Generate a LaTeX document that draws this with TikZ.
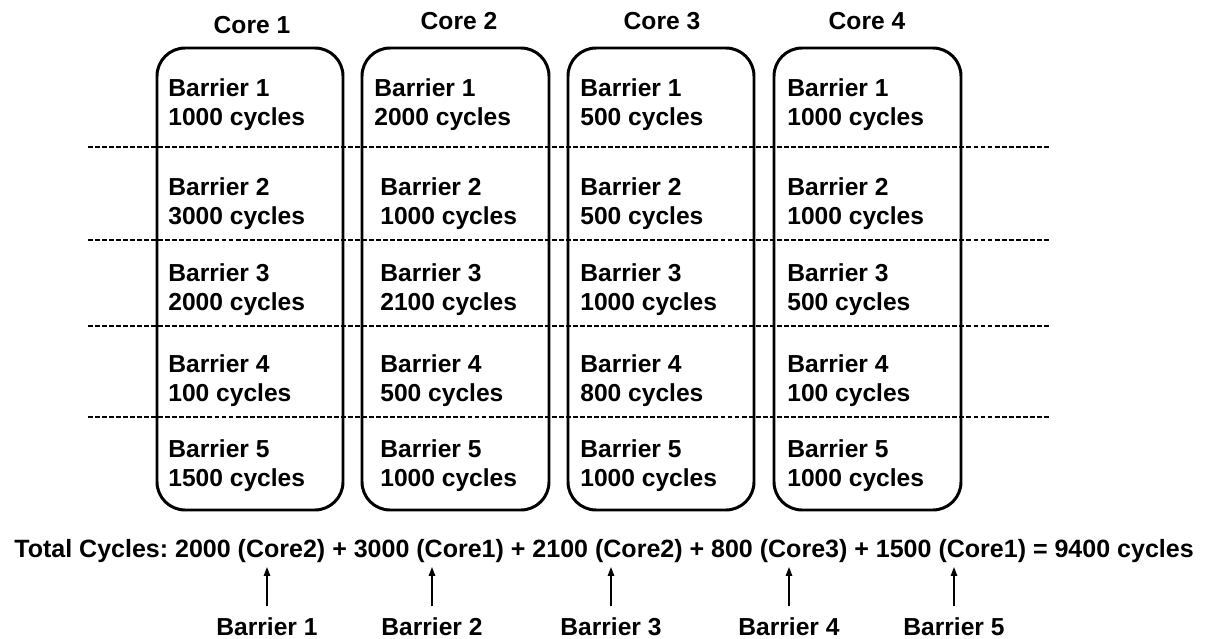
\documentclass[tikz,border=0pt]{standalone}
\usepackage{fontspec}
\setmainfont{Liberation Sans}
\usetikzlibrary{arrows.meta,calc,positioning}
\frenchspacing

\tikzset{
  lbl/.style={font=\fontsize{14}{17}\selectfont\bfseries, inner sep=0pt},
  corebox/.style={line width=1.7pt, rounded corners=16pt},
  sepline/.style={line width=1pt, dash pattern=on 2.8pt off 1.2pt},
  uparrow/.style={line width=0.8pt, -{Triangle[length=5pt,width=3.6pt]}, shorten <=6pt},
}

\begin{document}
\begin{tikzpicture}[x=0.02cm, y=0.02cm]
  \useasboundingbox (0,0) rectangle (1205,-639);

  % barrier separators
  \foreach \yy in {147,240,326,417}
    \draw[sepline] (88,-\yy) -- (1050,-\yy);

  % one rounded box per core
  \draw[corebox] (157,-48) rectangle (343,-510);
  \draw[corebox] (362,-48) rectangle (549,-510);
  \draw[corebox] (568,-48) rectangle (754,-510);
  \draw[corebox] (774,-48) rectangle (961,-510);

  \node[lbl, anchor=base] (core1) at (252,-33) {Core 1};
  \node[lbl, anchor=base] (core2) at (459,-30) {Core 2};
  \node[lbl, anchor=base] (core3) at (662,-30) {Core 3};
  \node[lbl, anchor=base] (core4) at (867,-30) {Core 4};

  % cells: column, x, row, baseline, cycles
  \foreach \c/\xx/\r/\yy/\cyc in {
      1/168/1/96/1000, 1/168/2/195/3000, 1/168/3/281/2000, 1/168/4/372/100, 1/168/5/457/1500,
      2/374/1/96/2000, 2/380/2/195/1000, 2/380/3/281/2100, 2/380/4/372/500, 2/380/5/457/1000,
      3/580/1/96/500,  3/580/2/195/500,  3/580/3/281/1000, 3/580/4/372/800, 3/580/5/457/1000,
      4/787/1/96/1000, 4/787/2/195/1000, 4/787/3/281/500,  4/787/4/372/100, 4/787/5/457/1000}
  {
    \node[lbl, anchor=base west] (b\c\r) at (\xx,-\yy) {Barrier \r};
    \node[lbl, anchor=base west] (v\c\r) at (\xx,-\yy-29.5) {\cyc\ cycles};
  }

  % total
  \node[lbl, anchor=base west, font=\fontsize{14.24}{17}\selectfont\bfseries] (total) at (14,-557)
    {Total Cycles: 2000 (Core2) + 3000 (Core1) + 2100 (Core2) + 800 (Core3) + 1500 (Core1) = 9400 cycles};

  \foreach \i/\xx in {1/267,2/432,3/611,4/789,5/954} {
    \coordinate (t\i) at (\xx,-567);
    \node[lbl, anchor=base] (bar\i) at (\xx,-635) {Barrier \i};
    \draw[uparrow] (bar\i) -- (t\i);
  }
\end{tikzpicture}
\end{document}
